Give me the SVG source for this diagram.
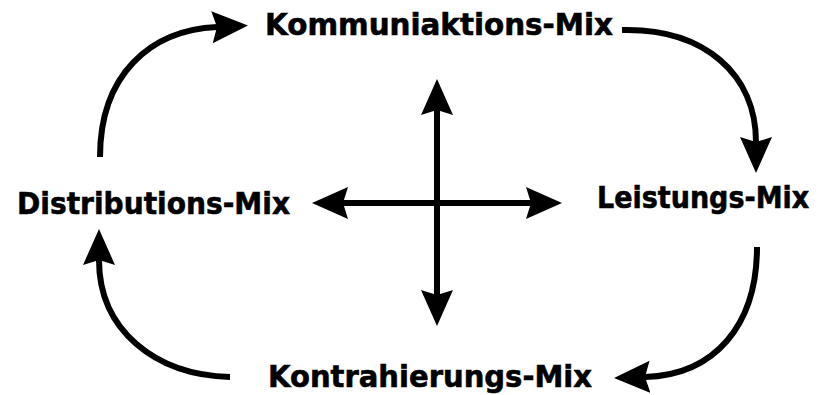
<svg xmlns="http://www.w3.org/2000/svg" width="821" height="395" viewBox="0 0 821 395">
<style>
.lbl{font-family:"DejaVu Sans","Liberation Sans",sans-serif;font-weight:bold;font-size:30px;fill:#000;stroke:#000;stroke-width:0.6}
.ln{fill:none;stroke:#000;stroke-width:6}
</style>
<defs>
<marker id="ah" markerUnits="userSpaceOnUse" markerWidth="40" markerHeight="36" viewBox="0 -18 40 36" refX="5" refY="0" orient="auto-start-reverse">
<path d="M36,0 L0,-16 L5,0 L0,16 Z" fill="#000"/>
</marker>
</defs>
<rect width="821" height="395" fill="#fff"/>
<g id="connectors">
<path class="ln" d="M100,157 C100,75 150,30 217,27" marker-end="url(#ah)"/>
<path class="ln" d="M622,30 C705,28 756,75 756,142" marker-end="url(#ah)"/>
<path class="ln" d="M757,247 C757,325 715,375 645,377" marker-end="url(#ah)"/>
<path class="ln" d="M230,377 C155,375 99,330 99,260" marker-end="url(#ah)"/>
<path class="ln" d="M437,110 L437,295" marker-start="url(#ah)" marker-end="url(#ah)"/>
<path class="ln" d="M343,203 L531,203" marker-start="url(#ah)" marker-end="url(#ah)"/>
</g>
<g id="kommunikation"><text class="lbl" x="265" y="35" textLength="348" lengthAdjust="spacingAndGlyphs">Kommuniaktions-Mix</text></g>
<g id="distribution"><text class="lbl" x="17" y="214" textLength="273" lengthAdjust="spacingAndGlyphs">Distributions-Mix</text></g>
<g id="leistung"><text class="lbl" transform="translate(597,208) scale(0.9,1)" x="0" y="0">Leistungs-Mix</text></g>
<g id="kontrahierung"><text class="lbl" x="268" y="387" textLength="324" lengthAdjust="spacingAndGlyphs">Kontrahierungs-Mix</text></g>
</svg>
